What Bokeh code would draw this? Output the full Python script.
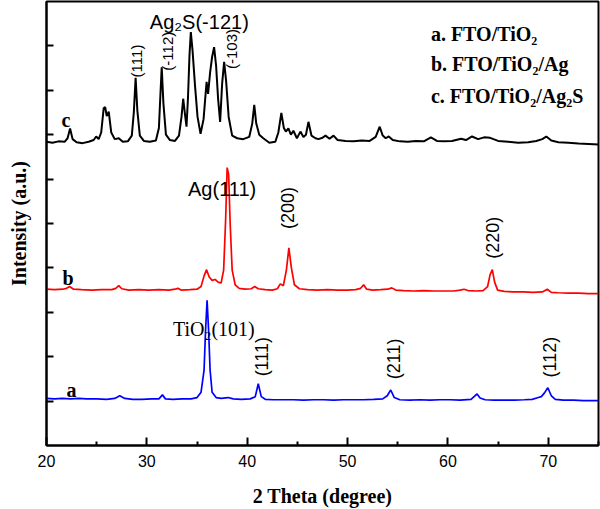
import math
from bokeh.plotting import figure
from bokeh.models import Range1d, FixedTicker
from bokeh.core.properties import value
from bokeh.embed import file_html
from bokeh.resources import INLINE

# ---- data (2 theta in degrees, offset intensity in a.u.) ----
c_points = [
    (20.0, 6.84), (20.6, 6.82), (21.2, 6.85), (21.8, 6.84), (22.1, 6.92), (22.35, 7.14),
    (22.6, 6.90), (23.0, 6.83), (23.6, 6.81), (24.2, 6.84), (24.7, 6.88), (24.95, 6.96),
    (25.2, 6.90), (25.45, 7.05), (25.7, 7.60), (25.85, 7.62), (26.0, 7.42), (26.2, 7.52),
    (26.45, 7.05), (26.8, 6.90), (27.2, 6.92), (27.6, 6.84), (28.1, 6.85), (28.5, 6.98),
    (28.7, 7.50), (28.88, 8.28), (29.05, 7.55), (29.3, 6.98), (29.7, 6.86), (30.3, 6.84),
    (30.9, 6.87), (31.2, 7.15), (31.35, 7.90), (31.48, 8.52), (31.65, 7.70), (31.9, 7.00),
    (32.3, 6.88), (32.8, 6.86), (33.2, 6.98), (33.45, 7.40), (33.62, 7.81), (33.8, 7.45),
    (33.95, 7.18), (34.1, 7.85), (34.25, 8.80), (34.38, 9.31), (34.55, 8.90), (34.8, 8.10),
    (35.05, 7.40), (35.35, 7.02), (35.65, 7.35), (35.95, 8.19), (36.1, 7.92), (36.3, 8.40),
    (36.5, 8.75), (36.7, 8.97), (36.9, 8.55), (37.1, 7.80), (37.3, 7.29), (37.5, 8.15),
    (37.7, 8.64), (37.9, 8.20), (38.15, 7.40), (38.5, 6.98), (39.0, 6.92), (39.6, 6.90),
    (40.2, 6.95), (40.5, 7.25), (40.7, 7.67), (40.9, 7.25), (41.2, 7.00), (41.6, 6.92),
    (42.2, 6.82), (42.8, 6.84), (43.1, 7.05), (43.4, 7.49), (43.65, 7.15), (43.85, 7.07),
    (44.1, 7.14), (44.35, 7.00), (44.6, 7.09), (44.95, 6.92), (45.3, 7.07), (45.6, 6.95),
    (45.85, 7.00), (46.1, 7.29), (46.4, 6.98), (46.8, 6.92), (47.1, 6.90), (47.5, 6.93),
    (47.8, 6.98), (48.2, 6.91), (48.6, 6.98), (49.0, 6.88), (49.8, 6.86), (50.6, 6.85),
    (51.4, 6.87), (52.2, 6.86), (52.8, 6.95), (53.2, 7.18), (53.5, 6.98), (53.8, 6.92),
    (54.1, 6.96), (54.5, 6.88), (55.2, 6.85), (56.0, 6.84), (56.8, 6.86), (57.6, 6.85),
    (58.3, 6.94), (58.9, 6.86), (59.6, 6.85), (60.4, 6.86), (61.3, 6.91), (61.8, 6.88),
    (62.4, 6.96), (63.0, 6.90), (63.6, 6.94), (64.2, 6.93), (65.0, 6.86), (66.0, 6.84),
    (67.0, 6.82), (68.0, 6.83), (68.8, 6.86), (69.4, 6.90), (69.8, 6.96), (70.3, 6.87),
    (71.0, 6.83), (72.0, 6.82), (73.0, 6.80), (74.0, 6.79), (75.0, 6.78),
]

b_points = [
    (20.0, 3.52), (20.8, 3.51), (21.6, 3.52), (22.0, 3.54), (22.3, 3.58), (22.7, 3.52),
    (23.5, 3.51), (24.5, 3.50), (25.5, 3.51), (26.5, 3.51), (26.9, 3.54), (27.2, 3.60),
    (27.5, 3.53), (28.2, 3.50), (29.2, 3.51), (30.2, 3.50), (31.2, 3.51), (32.2, 3.50),
    (32.8, 3.52), (33.1, 3.54), (33.4, 3.50), (34.3, 3.51), (35.0, 3.52), (35.4, 3.58),
    (35.7, 3.82), (35.95, 3.96), (36.2, 3.80), (36.5, 3.72), (36.8, 3.74), (37.1, 3.68),
    (37.4, 3.66), (37.65, 3.95), (37.85, 5.10), (38.0, 6.26), (38.15, 6.10), (38.3, 5.00),
    (38.5, 3.95), (38.8, 3.62), (39.2, 3.54), (39.8, 3.52), (40.4, 3.53), (40.75, 3.58),
    (41.1, 3.53), (41.8, 3.51), (42.5, 3.50), (43.0, 3.53), (43.3, 3.64), (43.6, 3.60),
    (43.9, 3.95), (44.15, 4.45), (44.4, 4.00), (44.7, 3.62), (45.2, 3.53), (46.0, 3.51),
    (47.0, 3.50), (48.0, 3.51), (49.0, 3.50), (50.0, 3.50), (50.8, 3.51), (51.3, 3.54),
    (51.6, 3.62), (51.9, 3.52), (52.5, 3.50), (53.3, 3.51), (54.0, 3.52), (54.4, 3.55),
    (54.8, 3.50), (55.6, 3.49), (56.6, 3.48), (57.6, 3.49), (58.6, 3.48), (59.6, 3.48),
    (60.6, 3.48), (61.2, 3.50), (61.6, 3.52), (62.0, 3.49), (62.8, 3.48), (63.5, 3.49),
    (63.95, 3.58), (64.2, 3.85), (64.42, 3.96), (64.65, 3.68), (64.95, 3.50), (65.6, 3.47),
    (66.5, 3.46), (67.5, 3.46), (68.5, 3.45), (69.4, 3.46), (69.9, 3.52), (70.3, 3.45),
    (71.0, 3.44), (72.0, 3.43), (73.0, 3.43), (74.0, 3.42), (75.0, 3.42),
]

a_points = [
    (20.0, 1.06), (20.8, 1.05), (21.6, 1.06), (22.4, 1.05), (23.2, 1.06), (24.0, 1.05),
    (25.0, 1.05), (26.0, 1.04), (26.8, 1.06), (27.3, 1.12), (27.8, 1.06), (28.6, 1.04),
    (29.5, 1.04), (30.5, 1.05), (31.2, 1.05), (31.55, 1.14), (31.85, 1.05), (32.6, 1.04),
    (33.5, 1.05), (34.4, 1.05), (35.0, 1.08), (35.4, 1.20), (35.7, 1.70), (35.85, 2.60),
    (36.0, 3.27), (36.15, 2.60), (36.3, 1.70), (36.5, 1.20), (36.9, 1.08), (37.4, 1.06),
    (38.1, 1.08), (38.6, 1.05), (39.4, 1.04), (40.3, 1.05), (40.8, 1.10), (41.1, 1.39),
    (41.4, 1.10), (41.8, 1.04), (42.6, 1.03), (43.6, 1.03), (44.6, 1.03), (45.6, 1.02),
    (46.6, 1.03), (47.6, 1.03), (48.6, 1.02), (49.6, 1.03), (50.6, 1.03), (51.6, 1.03),
    (52.6, 1.04), (53.5, 1.05), (53.95, 1.12), (54.3, 1.25), (54.65, 1.08), (55.2, 1.03),
    (56.2, 1.02), (57.2, 1.03), (58.2, 1.02), (59.2, 1.03), (60.2, 1.03), (61.2, 1.02),
    (62.3, 1.04), (62.6, 1.10), (62.9, 1.16), (63.2, 1.07), (63.7, 1.03), (64.6, 1.02),
    (65.6, 1.02), (66.6, 1.02), (67.6, 1.03), (68.4, 1.04), (69.0, 1.08), (69.3, 1.10),
    (69.6, 1.18), (69.95, 1.30), (70.3, 1.12), (70.7, 1.04), (71.5, 1.02), (72.5, 1.02),
    (73.5, 1.01), (74.5, 1.01), (75.0, 1.01),
]

x_ticks = [20, 30, 40, 50, 60, 70]
x_minor_ticks = [25, 35, 45, 55, 65, 75]
y_ticks = [1, 2, 3, 4, 5, 6, 7, 8, 9]

# vertical peak labels (hkl)
c_hkl_x = [29.0, 32.05, 38.4]
c_hkl_y = [8.66, 8.88, 8.93]
c_hkl_text = ["(111)", "(-112)", "(-103)"]

ab_hkl_x = [44.05, 64.5, 41.5, 54.6, 70.2]
ab_hkl_y = [5.35, 4.68, 2.0, 1.95, 1.99]
ab_hkl_text = ["(200)", "(220)", "(111)", "(211)", "(112)"]

phase_x = [30.3, 34.1]
phase_y = [9.53, 5.78]
phase_text = ["Ag\u2082S(-121)", "Ag(111)"]

tio2_x = [32.6]
tio2_y = [2.62]
tio2_text = ["TiO\u2082(101)"]

curve_letter_x = [22.0, 21.6, 21.5]
curve_letter_y = [1.25, 3.78, 7.32]
curve_letter_text = ["a", "b", "c"]

legend_x = [58.3, 58.3, 58.3]
legend_y = [9.26, 8.59, 7.88]
legend_text = ["a. FTO/TiO\u2082", "b. FTO/TiO\u2082/Ag", "c. FTO/TiO\u2082/Ag\u2082S"]

# ---- figure ----
p = figure(width=600, height=509, output_backend="svg", toolbar_location=None,
           x_range=Range1d(20, 75), y_range=Range1d(0, 10),
           min_border_left=46, min_border_right=2, min_border_top=1, min_border_bottom=60)
p.background_fill_color = "white"
p.border_fill_color = "white"
p.outline_line_color = "black"
p.outline_line_width = 2
p.xgrid.visible = False
p.ygrid.visible = False

p.xaxis.ticker = FixedTicker(ticks=x_ticks, minor_ticks=x_minor_ticks)
p.xaxis.major_tick_in = 8
p.xaxis.major_tick_out = 0
p.xaxis.minor_tick_in = 4
p.xaxis.minor_tick_out = 0
p.xaxis.major_tick_line_width = 2
p.xaxis.minor_tick_line_width = 2
p.xaxis.axis_line_width = 2
p.xaxis.major_label_text_font = "Liberation Sans"
p.xaxis.major_label_text_font_size = "16px"
p.xaxis.major_label_text_color = "black"
p.xaxis.major_label_standoff = 9
p.xaxis.axis_label = "2 Theta (degree)"
p.xaxis.axis_label_text_font = "Liberation Serif"
p.xaxis.axis_label_text_font_style = "bold"
p.xaxis.axis_label_text_font_size = "20px"
p.xaxis.axis_label_text_color = "black"
p.xaxis.axis_label_standoff = 15

p.yaxis.ticker = FixedTicker(ticks=y_ticks, minor_ticks=[])
p.yaxis.major_tick_in = 7
p.yaxis.major_tick_out = 0
p.yaxis.minor_tick_in = 0
p.yaxis.minor_tick_out = 0
p.yaxis.major_tick_line_width = 2
p.yaxis.axis_line_width = 2
p.yaxis.major_label_overrides = {t: "" for t in y_ticks}
p.yaxis.major_label_standoff = 0
p.yaxis.axis_label = "Intensity (a.u.)"
p.yaxis.axis_label_text_font = "Liberation Serif"
p.yaxis.axis_label_text_font_style = "bold"
p.yaxis.axis_label_text_font_size = "20px"
p.yaxis.axis_label_text_color = "black"
p.yaxis.axis_label_standoff = 17

# ---- curves ----
for pts, col, lw in ((a_points, "#0000ff", 1.7), (b_points, "#ff0000", 1.7), (c_points, "#000000", 2.0)):
    xs = [q[0] for q in pts]
    ys = [q[1] for q in pts]
    p.line(xs, ys, line_color=col, line_width=lw)

# ---- annotations ----
p.text(x=c_hkl_x, y=c_hkl_y, text=c_hkl_text, angle=math.pi / 2,
       text_font=value("Liberation Sans"), text_font_size=value("15px"),
       text_align="center", text_baseline="middle", text_color="black")
p.text(x=ab_hkl_x, y=ab_hkl_y, text=ab_hkl_text, angle=math.pi / 2,
       text_font=value("Liberation Sans"), text_font_size=value("18px"),
       text_align="center", text_baseline="middle", text_color="black")
p.text(x=phase_x, y=phase_y, text=phase_text,
       text_font=value("Liberation Sans"), text_font_size=value("20px"),
       text_align="left", text_baseline="alphabetic", text_color="black")
p.text(x=tio2_x, y=tio2_y, text=tio2_text,
       text_font=value("Liberation Serif"), text_font_size=value("20px"),
       text_align="left", text_baseline="alphabetic", text_color="black")
p.text(x=curve_letter_x, y=curve_letter_y, text=curve_letter_text,
       text_font=value("Liberation Serif"), text_font_size=value("20px"),
       text_font_style="bold", text_align="left", text_baseline="alphabetic",
       text_color="black")
p.text(x=legend_x, y=legend_y, text=legend_text,
       text_font=value("Liberation Serif"), text_font_size=value("20px"),
       text_font_style="bold", text_align="left", text_baseline="alphabetic",
       text_color="black")

open("out.html", "w").write(file_html(p, INLINE))
